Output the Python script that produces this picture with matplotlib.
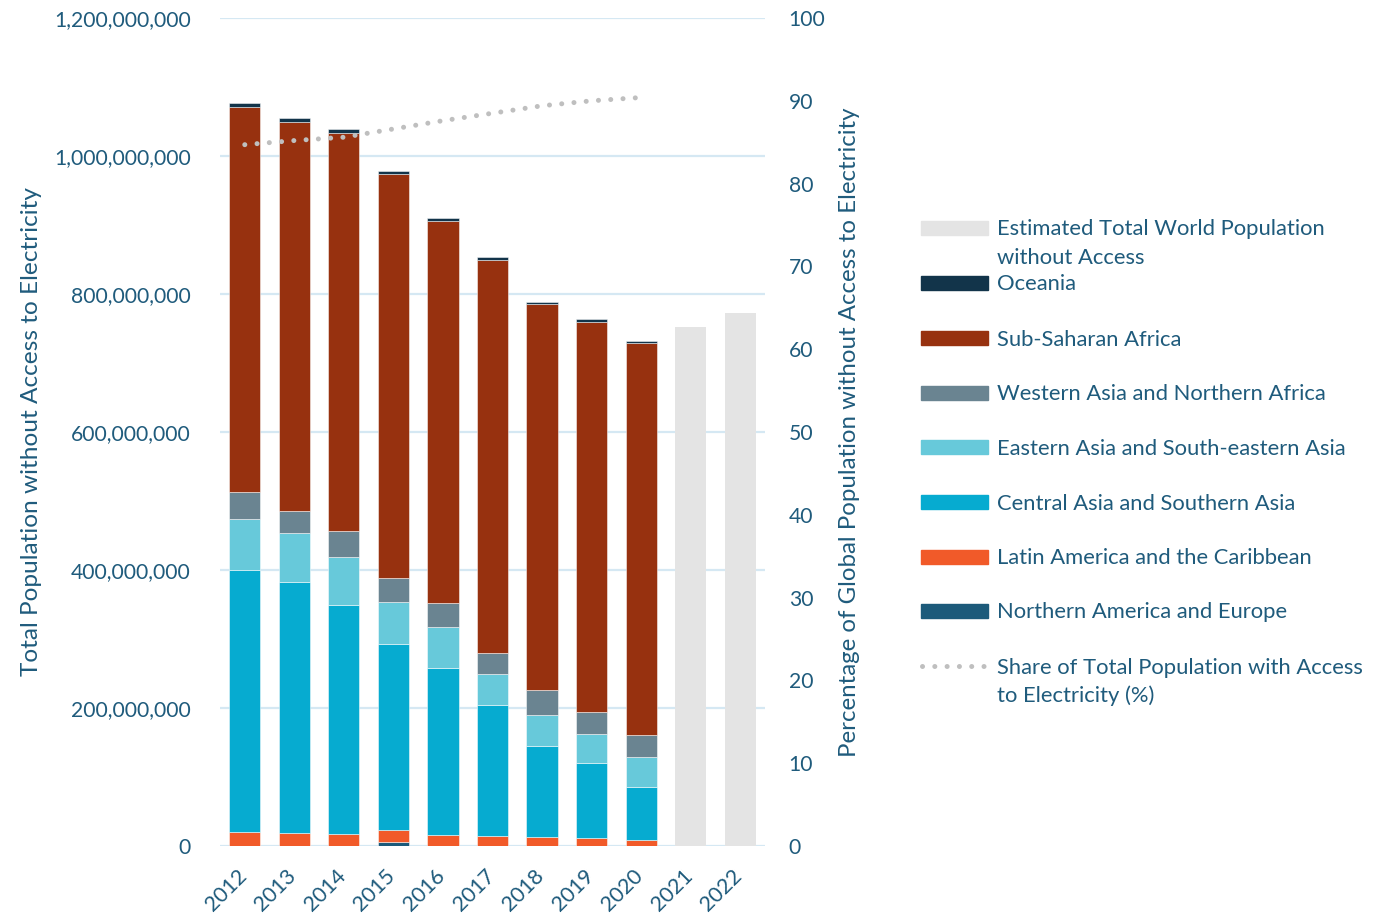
import matplotlib
matplotlib.use("Agg")
import matplotlib.pyplot as plt
from matplotlib.patches import Rectangle
from matplotlib.lines import Line2D
from matplotlib.ticker import FuncFormatter
from matplotlib.transforms import ScaledTranslation
import numpy as np

plt.rcParams['font.family'] = ['Lato', 'DejaVu Sans']

years = ['2012', '2013', '2014', '2015', '2016', '2017', '2018', '2019', '2020', '2021', '2022']

# millions of people without access, by region (2012-2020)
north_america_europe = [0, 0, 0, 6.0, 0, 0, 0, 0, 0]
latin_america = [20.6, 18.8, 18.0, 17.5, 15.7, 13.8, 12.8, 11.9, 9.0]
central_southern_asia = [379.8, 363.2, 332.0, 269.5, 242.3, 190.2, 132.8, 109.1, 77.0]
eastern_se_asia = [73.6, 71.0, 69.0, 60.6, 60.0, 46.0, 44.9, 41.6, 43.7]
western_asia_n_africa = [39.0, 32.0, 37.0, 35.4, 34.0, 30.0, 36.3, 31.9, 31.3]
sub_saharan_africa = [558.6, 564.5, 576.7, 585.0, 554.0, 569.8, 558.8, 565.5, 567.6]
oceania = [5.4, 5.5, 5.8, 4.3, 4.3, 3.9, 3.4, 3.9, 3.4]

# estimated world totals (millions), 2021-2022
estimated_total = [752.8, 773.0]

# share of population with access (%)
share_access = [84.7, 85.2, 85.6, 86.6, 87.6, 88.5, 89.4, 90.0, 90.4]

series = [
    ('Northern America and Europe', north_america_europe, '#1c5a7a'),
    ('Latin America and the Caribbean', latin_america, '#f15a29'),
    ('Central Asia and Southern Asia', central_southern_asia, '#06abd0'),
    ('Eastern Asia and South-eastern Asia', eastern_se_asia, '#67c9da'),
    ('Western Asia and Northern Africa', western_asia_n_africa, '#6a8491'),
    ('Sub-Saharan Africa', sub_saharan_africa, '#97310f'),
    ('Oceania', oceania, '#12344a'),
]
est_color = '#e4e4e4'
line_color = '#bfbfbf'
text_color = '#1f5b7c'
grid_color = '#d5e8f3'

fig = plt.figure(figsize=(13.88, 9.14), dpi=100)
ax = fig.add_axes([220 / 1388, 68 / 914, 545 / 1388, 828 / 914])
ax2 = ax.twinx()

x = np.arange(len(years))
xa = x[:9]
bottom = np.zeros(9)
for name, vals, col in series:
    v = np.array(vals) * 1e6
    ax.bar(xa, v, 0.63, bottom=bottom, color=col, edgecolor=(1, 1, 1, 0.5),
           linewidth=0.7, zorder=3)
    bottom += v
ax.bar(x[9:], np.array(estimated_total) * 1e6, 0.63, color=est_color, zorder=3)

ax.set_xlim(-0.5, 10.5)
ax.set_ylim(0, 1.2e9)
ax.set_yticks(np.arange(0, 1.2e9 + 1, 2e8))
ax.yaxis.set_major_formatter(FuncFormatter(lambda v, p: f'{int(v):,}'))
ax.grid(axis='y', color=grid_color, linewidth=1.6, zorder=0)
ax.set_axisbelow(True)
ax.set_xticks(x)
ax.set_xticklabels(years, rotation=45, ha='right')
ax.tick_params(axis='x', length=0, pad=14, labelsize=15.5, labelcolor=text_color)
ax.tick_params(axis='y', length=0, pad=21, labelsize=15.2, labelcolor=text_color)
shift = ScaledTranslation(6 / 100, 0, fig.dpi_scale_trans)
for lab in ax.get_xticklabels():
    lab.set_transform(lab.get_transform() + shift)
for s in ax.spines.values():
    s.set_visible(False)
for s in ax2.spines.values():
    s.set_visible(False)

ax2.plot(xa, share_access, color=line_color, linewidth=3.6,
         linestyle=(0, (0.01, 2.45)), dash_capstyle='round', zorder=4)
ax2.set_ylim(0, 100)
ax2.set_yticks(np.arange(0, 101, 10))
ax2.tick_params(axis='y', length=0, pad=17, labelsize=15.2, labelcolor=text_color)

ax.set_ylabel('Total Population without Access to Electricity', fontsize=17.6, color=text_color)
ax.yaxis.set_label_coords(-0.327, 0.5)
ax2.set_ylabel('Percentage of Global Population without Access to Electricity',
               fontsize=17.3, color=text_color)
ax2.yaxis.set_label_coords(1.136, 0.5)

# legend drawn by hand to follow the original layout
H = 914
legend_items = [
    ('Estimated Total World Population\nwithout Access', est_color, 'patch', 227.5),
    ('Oceania', '#12344a', 'patch', 283),
    ('Sub-Saharan Africa', '#97310f', 'patch', 338),
    ('Western Asia and Northern Africa', '#6a8491', 'patch', 393),
    ('Eastern Asia and South-eastern Asia', '#67c9da', 'patch', 447),
    ('Central Asia and Southern Asia', '#06abd0', 'patch', 502),
    ('Latin America and the Caribbean', '#f15a29', 'patch', 557),
    ('Northern America and Europe', '#1c5a7a', 'patch', 611),
    ('Share of Total Population with Access\nto Electricity (%)', line_color, 'line', 666),
]
for label, col, kind, yc in legend_items:
    if kind == 'patch':
        fig.add_artist(Rectangle((921 / 1388, (H - yc - 7) / H), 67 / 1388, 14 / H,
                                 transform=fig.transFigure, color=col))
    else:
        fig.add_artist(Line2D([922 / 1388, 986 / 1388], [(H - yc) / H] * 2,
                              transform=fig.transFigure, color=col, linewidth=3.6,
                              linestyle=(0, (0.01, 2.45)), dash_capstyle='round'))
    for i, line in enumerate(label.split('\n')):
        fig.text(997 / 1388, (H - yc - 7.5 - i * 28.5) / H, line, ha='left',
                 va='baseline', fontsize=15.8, color=text_color)

fig.savefig('out.png', dpi=100)
